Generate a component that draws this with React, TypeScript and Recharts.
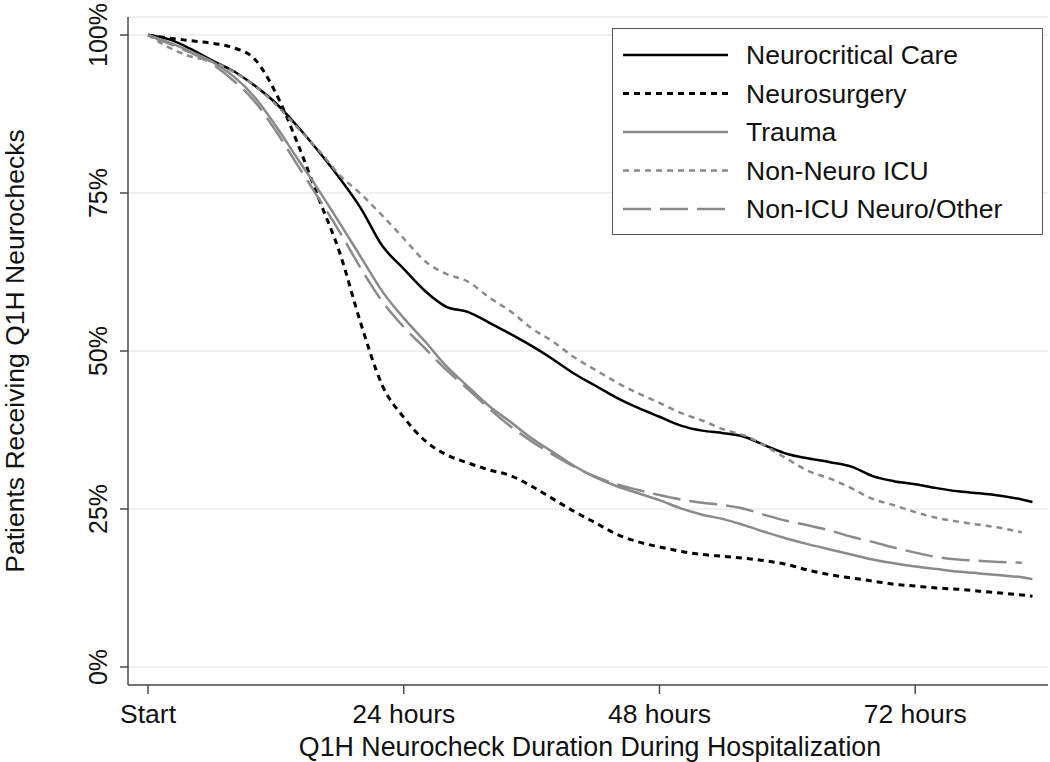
import { CartesianGrid, Line, LineChart, XAxis, YAxis } from "recharts";

const hours = [
  0, 2, 4, 6, 8, 10, 12, 14, 16, 18, 20, 22, 24, 26, 28, 30, 32, 34, 36, 38, 40,
  42, 44, 46, 48, 50, 52, 54, 56, 58, 60, 62, 64, 66, 68, 70, 72, 74, 76, 78, 80,
  82, 83,
];

const neurocritical = [
  100, 99.3, 97.8, 96.0, 94.3, 92.0, 89.2, 85.6, 81.6, 77.3, 72.5, 66.6, 63.0,
  59.5, 57.0, 56.2, 54.5, 52.7, 50.8, 48.7, 46.4, 44.5, 42.6, 41.0, 39.6, 38.2,
  37.4, 37.0, 36.4, 35.0, 33.7, 33.0, 32.4, 31.7, 30.2, 29.4, 28.9, 28.3, 27.8,
  27.5, 27.1, 26.5, 26.1,
];

const neurosurgery = [
  100, 99.5, 99.1, 98.7, 98.0, 96.2, 90.8, 83.0, 74.2, 65.5, 54.2, 44.5, 39.5,
  35.8, 33.6, 32.3, 31.2, 30.3, 28.6, 26.6, 24.6, 22.8, 21.0, 19.8, 19.0, 18.3,
  17.8, 17.5, 17.2, 16.8, 16.2, 15.3, 14.6, 14.1, 13.6, 13.1, 12.8, 12.5, 12.3,
  12.0, 11.7, 11.4, 11.2,
];

const trauma = [
  100, 98.8, 97.4, 95.8, 93.5, 90.2, 85.6, 80.5, 75.5, 70.2, 64.8, 59.4, 55.2,
  51.5, 47.6, 44.4, 41.3, 38.8, 36.2, 34.0, 31.8, 30.0, 28.6, 27.5, 26.4, 25.1,
  24.1, 23.4, 22.4, 21.3, 20.3, 19.4, 18.6, 17.8, 17.0, 16.4, 15.9, 15.5, 15.1,
  14.8, 14.5, 14.2, 13.9,
];

const nonNeuroIcu = [
  100, 98.0, 96.6, 95.8, 94.2, 92.0, 89.0, 85.4, 81.8, 77.8, 74.8, 71.4, 67.8,
  64.2, 62.2, 61.0, 58.5, 56.3, 53.6, 51.5, 49.0, 47.0, 45.0, 43.3, 41.8, 40.2,
  39.0, 37.6, 36.6, 34.9, 32.9, 31.0, 29.8, 28.3, 26.6, 25.6, 24.5, 23.6, 23.0,
  22.5, 22.0, 21.3, null,
];

const nonIcuOther = [
  100, 98.6, 97.2, 95.4, 92.8, 89.5, 84.8, 79.5, 74.2, 68.8, 63.0, 57.8, 53.8,
  50.4, 47.0, 44.0, 40.9, 38.1, 35.7, 33.6, 31.7, 30.1, 28.9, 28.0, 27.2, 26.5,
  26.0, 25.6, 25.0, 24.0, 23.1, 22.4, 21.6, 20.6, 19.8, 18.9, 18.1, 17.4, 17.0,
  16.8, 16.6, 16.5, null,
];

const xTicks = [0, 24, 48, 72];
const yTicks = [0, 25, 50, 75, 100];

const series = [
  { key: "nc", name: "Neurocritical Care", color: "#000", width: 2.5, dash: undefined },
  { key: "ns", name: "Neurosurgery", color: "#000", width: 3, dash: "6 5" },
  { key: "tr", name: "Trauma", color: "#8a8a8a", width: 2.5, dash: undefined },
  { key: "nn", name: "Non-Neuro ICU", color: "#8a8a8a", width: 2.5, dash: "6 5" },
  { key: "ot", name: "Non-ICU Neuro/Other", color: "#8a8a8a", width: 2.5, dash: "28 9" },
];

const data = hours.map((h, i) => ({
  hours: h,
  nc: neurocritical[i],
  ns: neurosurgery[i],
  tr: trauma[i],
  nn: nonNeuroIcu[i],
  ot: nonIcuOther[i],
}));

const font = "'Liberation Sans', Arial, Helvetica, sans-serif";
const axisColor = "#4a4a4a";

function YTick(props: any) {
  const { x, y, payload } = props;
  const bx = x - 13;
  return (
    <text
      x={bx}
      y={y}
      transform={`rotate(-90 ${bx} ${y})`}
      textAnchor="middle"
      fontSize={25}
      fontFamily={font}
      fill="#111"
    >
      {payload.value}%
    </text>
  );
}

function XTick(props: any) {
  const { x, y, payload } = props;
  const label = payload.value === 0 ? "Start" : `${payload.value} hours`;
  return (
    <text x={x} y={y} dy={29} textAnchor="middle" fontSize={26.5} fontFamily={font} fill="#111">
      {label}
    </text>
  );
}

function Legendbox() {
  return (
    <div
      style={{
        position: "absolute",
        left: 612,
        top: 28,
        width: 429,
        height: 205,
        border: "1.5px solid #555",
        background: "#fff",
      }}
    >
      <svg width={429} height={205}>
        {series.map((s, i) => {
          const cy = 26 + i * 38.5;
          return (
            <g key={s.key}>
              <line
                x1={10}
                x2={115}
                y1={cy}
                y2={cy}
                stroke={s.color}
                strokeWidth={s.width}
                strokeDasharray={s.dash}
              />
              <text
                x={133}
                y={cy}
                dy={9}
                fontSize={26.5}
                fontFamily={font}
                fill="#111"
              >
                {s.name}
              </text>
            </g>
          );
        })}
      </svg>
    </div>
  );
}

export default function App() {
  return (
    <div style={{ position: "absolute", left: 0, top: 0, width: 1050, height: 762, background: "#fff" }}>
      <LineChart
        width={1050}
        height={762}
        data={data}
        margin={{ top: 17, right: 2, bottom: 0, left: 0 }}
      >
        <CartesianGrid vertical={false} stroke="#ebebeb" strokeWidth={1.5} />
        <XAxis
          dataKey="hours"
          type="number"
          domain={[-1.88, 84.46]}
          ticks={xTicks}
          height={77}
          tickSize={9}
          tickMargin={0}
          tick={<XTick />}
          stroke={axisColor}
          strokeWidth={1.5}
          label={{
            content: () => (
              <text x={590} y={756} textAnchor="middle" fontSize={26.8} fontFamily={font} fill="#111">
                Q1H Neurocheck Duration During Hospitalization
              </text>
            ),
          }}
        />
        <YAxis
          type="number"
          domain={[-2.85, 102.85]}
          ticks={yTicks}
          width={128}
          tickSize={8}
          tickMargin={0}
          tick={<YTick />}
          stroke={axisColor}
          strokeWidth={1.5}
          label={{
            content: () => (
              <text
                x={24}
                y={351}
                transform="rotate(-90 24 351)"
                textAnchor="middle"
                fontSize={26.5}
                fontFamily={font}
                fill="#111"
              >
                Patients Receiving Q1H Neurochecks
              </text>
            ),
          }}
        />
        {series.map((s) => (
          <Line
            key={s.key}
            dataKey={s.key}
            name={s.name}
            type="monotone"
            stroke={s.color}
            strokeWidth={s.width}
            strokeDasharray={s.dash}
            dot={false}
            activeDot={false}
            isAnimationActive={false}
          />
        ))}
      </LineChart>
      <Legendbox />
    </div>
  );
}
